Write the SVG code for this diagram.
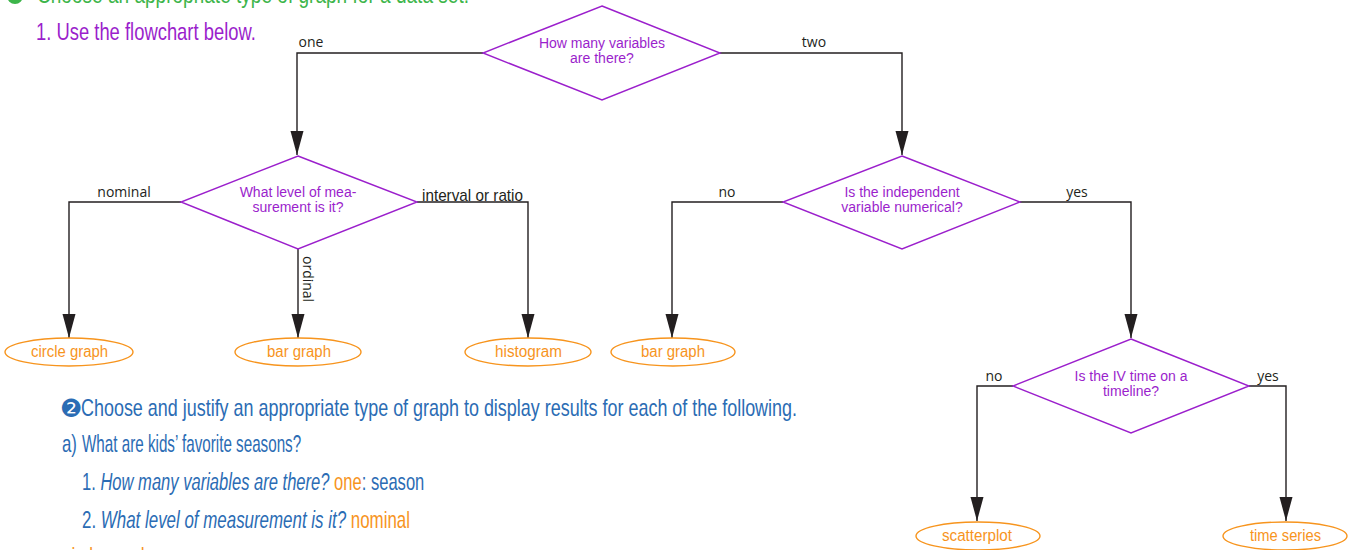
<svg xmlns="http://www.w3.org/2000/svg" width="1352" height="550" viewBox="0 0 1352 550">
<style>
.bg{fill:#ffffff}
.dia{fill:#ffffff;stroke:#9b1fcc;stroke-width:1.4}
.dt{font-family:"Liberation Sans",sans-serif;font-size:14px;fill:#9b1fcc;text-anchor:middle}
.ell{fill:#ffffff;stroke:#f7941d;stroke-width:1.4}
.et{font-family:"Liberation Sans",sans-serif;font-size:16px;fill:#f7941d}
.con{fill:none;stroke:#231f20;stroke-width:1.4}
.lb{font-family:"Open Sans","Liberation Sans",sans-serif;font-size:14px;fill:#231f20;text-anchor:middle}
.lbc{font-family:"Liberation Sans",sans-serif;font-size:17px;fill:#231f20}
.hd{font-family:"Liberation Sans",sans-serif;font-size:24px}
.blue{fill:#2b6cb4}
.or{fill:#f7941d}
.it{font-style:italic}
</style>
<defs>
<marker id="arr" markerUnits="userSpaceOnUse" markerWidth="26" markerHeight="14" refX="24" refY="7" orient="auto">
<path d="M0,0.5 L24,7 L0,13.5 z" fill="#231f20"/>
</marker>
</defs>
<rect class="bg" x="0" y="0" width="1352" height="550"/>

<g id="header">
<circle cx="15" cy="-4" r="8" fill="#3db54a"/>
<text class="hd" fill="#3db54a" transform="translate(37,3) scale(0.794,1)">Choose an appropriate type of graph for a data set.</text>
<text class="hd" fill="#9b1fcc" transform="translate(36,40) scale(0.767,1)">1. Use the flowchart below.</text>
</g>

<g id="connectors">
<path class="con" d="M483,53 H297 V155" marker-end="url(#arr)"/>
<path class="con" d="M720,53 H902 V155" marker-end="url(#arr)"/>
<path class="con" d="M181,202 H69 V338" marker-end="url(#arr)"/>
<path class="con" d="M298,249 V338" marker-end="url(#arr)"/>
<path class="con" d="M417,202 H528 V338" marker-end="url(#arr)"/>
<path class="con" d="M783,202 H672 V338" marker-end="url(#arr)"/>
<path class="con" d="M1020,202 H1131 V338" marker-end="url(#arr)"/>
<path class="con" d="M1013,386 H977 V521" marker-end="url(#arr)"/>
<path class="con" d="M1249,386 H1286 V521" marker-end="url(#arr)"/>
<text class="lb" x="311" y="47">one</text>
<text class="lb" x="814" y="47">two</text>
<text class="lb" x="124" y="197">nominal</text>
<text class="lbc" x="422" y="201" textLength="101" lengthAdjust="spacingAndGlyphs">interval or ratio</text>
<text class="lb" transform="translate(303,256) rotate(90)" x="0" y="0" style="text-anchor:start">ordinal</text>
<text class="lb" x="727" y="197">no</text>
<text class="lb" x="1077" y="197">yes</text>
<text class="lb" x="994" y="381">no</text>
<text class="lb" x="1268" y="381">yes</text>
</g>

<g id="q-variables">
<polygon class="dia" points="602,6 720,53 602,100 483,53"/>
<text class="dt" x="602" y="48">How many variables</text>
<text class="dt" x="602" y="63">are there?</text>
</g>

<g id="q-level">
<polygon class="dia" points="298,156 417,202 298,249 181,202"/>
<text class="dt" x="298" y="197">What level of mea-</text>
<text class="dt" x="298" y="212">surement is it?</text>
</g>

<g id="q-independent">
<polygon class="dia" points="902,156 1020,202 902,249 783,202"/>
<text class="dt" x="902" y="197">Is the independent</text>
<text class="dt" x="902" y="212">variable numerical?</text>
</g>

<g id="q-timeline">
<polygon class="dia" points="1131,339 1249,386 1131,433 1013,386"/>
<text class="dt" x="1131" y="381">Is the IV time on a</text>
<text class="dt" x="1131" y="396">timeline?</text>
</g>

<g id="circle-graph">
<ellipse class="ell" cx="69" cy="352" rx="64" ry="14"/>
<text class="et" x="31" y="357" textLength="77" lengthAdjust="spacingAndGlyphs">circle graph</text>
</g>
<g id="bar-graph-1">
<ellipse class="ell" cx="298" cy="352" rx="63" ry="14"/>
<text class="et" x="267" y="357" textLength="64" lengthAdjust="spacingAndGlyphs">bar graph</text>
</g>
<g id="histogram">
<ellipse class="ell" cx="528" cy="352" rx="63" ry="14"/>
<text class="et" x="495" y="357" textLength="67" lengthAdjust="spacingAndGlyphs">histogram</text>
</g>
<g id="bar-graph-2">
<ellipse class="ell" cx="673" cy="352" rx="62" ry="14"/>
<text class="et" x="641" y="357" textLength="64" lengthAdjust="spacingAndGlyphs">bar graph</text>
</g>
<g id="scatterplot">
<ellipse class="ell" cx="978" cy="536" rx="62" ry="14"/>
<text class="et" x="942" y="541" textLength="70" lengthAdjust="spacingAndGlyphs">scatterplot</text>
</g>
<g id="time-series">
<ellipse class="ell" cx="1285" cy="536" rx="62" ry="14"/>
<text class="et" x="1250" y="541" textLength="71" lengthAdjust="spacingAndGlyphs">time series</text>
</g>

<g id="exercise">
<text class="blue" x="60" y="417" style="font-family:'DejaVu Sans',sans-serif;font-size:25px">❷</text>
<text class="hd blue" x="81" y="416" textLength="716" lengthAdjust="spacingAndGlyphs">Choose and justify an appropriate type of graph to display results for each of the following.</text>
<text class="hd blue" transform="translate(62,452) scale(0.7,1)">a)</text>
<text class="hd blue" transform="translate(82,452) scale(0.634,1)">What are kids’ favorite seasons?</text>
<text class="hd blue" transform="translate(82,490) scale(0.69,1)">1. <tspan class="it">How many variables are there?</tspan> <tspan class="or">one</tspan>: season</text>
<text class="hd blue" transform="translate(82,528) scale(0.705,1)">2. <tspan class="it">What level of measurement is it?</tspan> <tspan class="or">nominal</tspan></text>
<text class="hd or" x="63" y="564" textLength="87" lengthAdjust="spacingAndGlyphs">circle graph</text>
</g>
</svg>
